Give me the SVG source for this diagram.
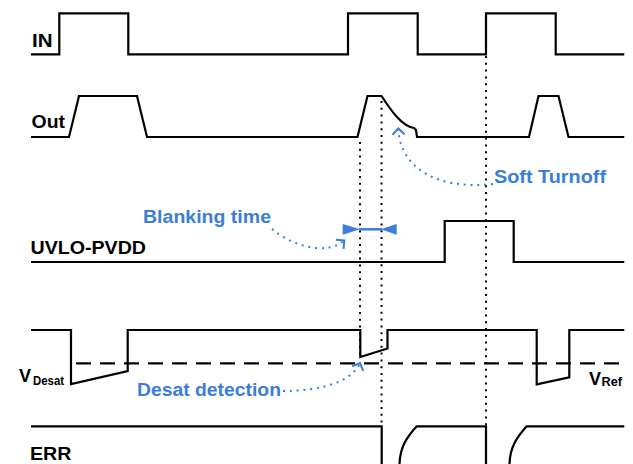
<svg xmlns="http://www.w3.org/2000/svg" width="633" height="464" viewBox="0 0 633 464">
<style>
.sig{fill:none;stroke:#000;stroke-width:2.2;stroke-linejoin:miter}
.dash{fill:none;stroke:#000;stroke-width:2.2;stroke-dasharray:15 9}
.dot{fill:none;stroke:#000;stroke-width:2;stroke-dasharray:2 4.8}
.bdot{fill:none;stroke:#3b7dd8;stroke-width:2;stroke-dasharray:2 4.8}
.lbl{font-family:"Liberation Sans",Arial,sans-serif;font-weight:bold;font-size:18px;fill:#000}
.sub{font-family:"Liberation Sans",Arial,sans-serif;font-weight:bold;font-size:12px;fill:#000}
.blue{font-family:"Liberation Sans",Arial,sans-serif;font-weight:bold;font-size:18px;fill:#3b7dd8}
</style>
<defs>
<marker id="chev" markerUnits="userSpaceOnUse" markerWidth="16" markerHeight="16" refX="8" refY="8" orient="auto" overflow="visible">
<path d="M2,2 L8,8 L2,14" fill="none" stroke="#3b7dd8" stroke-width="2"/>
</marker>
</defs>
<rect width="633" height="464" fill="#fff"/>

<g id="IN">
<path class="sig" d="M31,54.3 H59.3 V13.3 H128.3 V54.3 H348 V13.3 H417.7 V54.3 H486 V13.3 H555.7 V54.3 H624.3"/>
<text class="lbl" x="32" y="47" textLength="20.5" lengthAdjust="spacingAndGlyphs">IN</text>
</g>

<g id="Out">
<path class="sig" d="M31,137 H69 L79,96 H137 L147,137 H357.5 L367.5,96 H381.5 C392,112 402,126 414,128 L416,130 L417,137 H529 L538.5,96 H558.5 L568.5,137 H624.3"/>
<text class="lbl" x="31.5" y="128" textLength="33.5" lengthAdjust="spacingAndGlyphs">Out</text>
</g>

<g id="UVLO-PVDD">
<path class="sig" d="M31,262 H444.7 V221 H513.7 V262 H624.3"/>
<text class="lbl" x="30.5" y="254" textLength="115.5" lengthAdjust="spacingAndGlyphs">UVLO-PVDD</text>
</g>

<g id="Desat">
<path class="sig" d="M31,330 H71 V384 L127.7,371 V330 H360.3 V357 L387.5,348.5 V330 H536.7 V384.3 L569.3,377.3 V330 H624.3"/>
<path class="dash" d="M76,363.3 H624.3"/>
<text class="lbl" x="19" y="382">V</text>
<text class="sub" x="33" y="384.5" textLength="31" lengthAdjust="spacingAndGlyphs">Desat</text>
<text class="lbl" x="589" y="385">V</text>
<text class="sub" x="601.5" y="386" textLength="20.5" lengthAdjust="spacingAndGlyphs">Ref</text>
</g>

<g id="ERR">
<path class="sig" d="M31,426.3 H381.7 V464"/>
<path class="sig" d="M399.5,464 C400,446 408,436 416.7,426.3 H486 V464"/>
<path class="sig" d="M509.5,464 C510,446 518,436 526.7,426.3 H624.3"/>
<text class="lbl" x="30" y="460" textLength="41.5" lengthAdjust="spacingAndGlyphs">ERR</text>
</g>

<g id="connectors">
<path class="dot" d="M360,142 V356"/>
<path class="dot" d="M381.5,101 V425"/>
<path class="dot" d="M486,56 V425"/>
<path class="bdot" d="M272,229 C292,246 326,256 344.3,240.5" marker-end="url(#chev)"/>
<path class="bdot" d="M283,391 C320,391 352,382 360,363" marker-end="url(#chev)"/>
<path class="bdot" d="M493,184 C440,190 400,170 398.3,128.5" marker-end="url(#chev)"/>
<g id="blanking-arrow" fill="#3b7dd8">
<path d="M342.7,224 V234.7 L360,229.3 Z"/>
<path d="M396.7,224 V234.7 L380.7,229.3 Z"/>
<path d="M359,229.3 H382" stroke="#3b7dd8" stroke-width="2.5"/>
</g>
</g>

<g id="labels">
<text class="blue" x="143" y="223" textLength="128" lengthAdjust="spacingAndGlyphs">Blanking time</text>
<text class="blue" x="137" y="396" textLength="144" lengthAdjust="spacingAndGlyphs">Desat detection</text>
<text class="blue" x="494" y="183" textLength="112" lengthAdjust="spacingAndGlyphs">Soft Turnoff</text>
</g>
</svg>
